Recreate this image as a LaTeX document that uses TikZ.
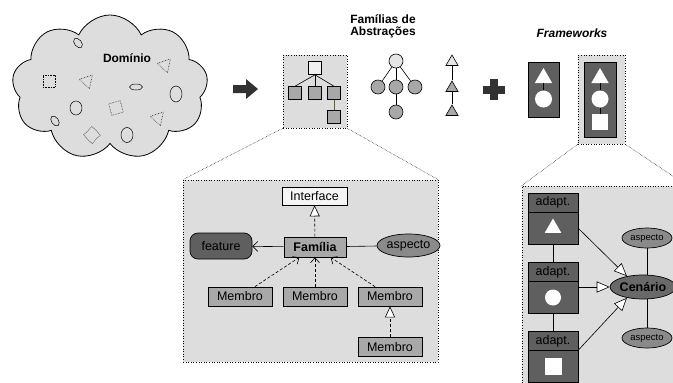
\documentclass[tikz,border=0pt]{standalone}
\usepackage{fontspec}
\setmainfont{Liberation Sans}
\usetikzlibrary{arrows.meta,positioning,shapes.geometric,shapes.symbols}
\definecolor{bgGray}{RGB}{221,221,221}
\definecolor{midGray}{RGB}{168,168,168}
\definecolor{aspGray}{RGB}{138,138,138}
\definecolor{darkGray}{RGB}{95,95,95}
\definecolor{ceGray}{RGB}{105,105,105}
\definecolor{arrGray}{RGB}{50,50,50}

\begin{document}
\begin{tikzpicture}[x=1pt,y=-1pt,
    txt/.style={font=\fontsize{12.5}{14}\selectfont},
    ttl/.style={font=\bfseries\fontsize{12}{12}\selectfont,align=center},
    zone/.style={rectangle,draw,dotted,line width=0.6pt,fill=bgGray,inner sep=0},
    cls/.style={rectangle,draw,line width=0.7pt,fill=midGray,minimum width=64,minimum height=19,inner sep=0,txt},
    asp/.style={ellipse,draw,line width=0.7pt,fill=aspGray,inner sep=0,txt},
    dk/.style={rectangle,draw,line width=0.8pt,fill=darkGray,inner sep=0,outer sep=0},
    wsym/.style={fill=white,draw=none},
    sq/.style={rectangle,draw,line width=0.6pt,minimum size=13,inner sep=0},
    circ/.style={circle,draw,line width=0.6pt,minimum size=14,inner sep=0},
    tri/.style={regular polygon,regular polygon sides=3,draw,line width=0.6pt,minimum size=14,inner sep=0},
    dots/.style={densely dotted,line width=0.5pt},
    sol/.style={line width=0.6pt},
    real/.style={sol,dash pattern=on 3pt off 2pt,-{Triangle[length=11pt,width=10pt,fill=white]}},
    dep/.style={sol,dash pattern=on 3pt off 2pt,-{Straight Barb[length=5pt,width=9pt]}},
    adp/.style={sol,-{Triangle[length=13pt,width=11pt,fill=white]}}
  ]
  \useasboundingbox (0,0) rectangle (673,383);
  \clip (0,0) rectangle (673,383);

  \node[cloud,cloud puffs=9,cloud puff arc=130,cloud ignores aspect,draw,line width=0.8pt,
    fill=bgGray,minimum width=196,minimum height=145] (dom) at (110,87.5) {};
  \node[ttl] (domlbl) at (127,58) {Domínio};
  \foreach \x/\y/\r [count=\i] in {49/81/0,116/108/15,92/135/45}
    \node[sq,dots,rotate=\r,minimum size=12] (dq\i) at (\x,\y) {};
  \foreach \x/\y [count=\i] in {165/65,87/81,158/118}
    \node[tri,dots,rotate=-42,minimum size=16] (dt\i) at (\x,\y) {};
  \foreach \x/\y/\w/\h/\r [count=\i] in {78/43/11/7/-50,136/87/13/6/0,55/121/11/7/-55,76/108/12/14/0,176/94/12/16/0,127/135/12/15/0}
    \node[ellipse,draw,line width=0.5pt,minimum width=\w,minimum height=\h,inner sep=0,rotate=\r] (de\i) at (\x,\y) {};

  \fill[arrGray] (233,85) -- (246,85) -- (246,79) -- (258,89) -- (246,99) -- (246,93) -- (233,93) -- cycle;
  \fill[arrGray] (490,79) rectangle (498,100);
  \fill[arrGray] (483,86) rectangle (505,94);

  \node[ttl] (famlbl) at (383,26) {Famílias de\\Abstrações};
  \node[zone,minimum width=64,minimum height=73] (fz) at (315,91.5) {};
  \node[sq,fill=gray!12] (fr) at (315,68) {};
  \foreach \x/\n in {295/f1,315/f2,334/f3} {
    \node[sq,fill=midGray] (\n) at (\x,93) {};
    \draw[sol] (fr.south) -- (\n.north);
  }
  \node[sq,fill=midGray] (f4) at (334,117) {};
  \draw[sol,draw=olive!60!black] (f3) -- (f4);

  \node[circ,fill=gray!20] (cr) at (396,61) {};
  \foreach \x/\n in {378/c1,396/c2,415/c3} {
    \node[circ,fill=midGray] (\n) at (\x,87) {};
    \draw[sol] (cr) -- (\n);
  }
  \node[circ,fill=midGray] (c4) at (396,112) {};
  \draw[sol] (c2) -- (c4);

  \node[tri,fill=gray!20] (t1) at (452,62) {};
  \node[tri,fill=midGray] (t2) at (452,88) {};
  \node[tri,fill=midGray] (t3) at (452,112) {};
  \draw[sol] (t1) -- (t2);
  \draw[sol] (t2) -- (t3);

  \node[ttl,font=\bfseries\itshape\fontsize{12}{12}\selectfont] (fwlbl) at (572,33) {Frameworks};
  \node[dk,minimum width=31,minimum height=55] (fw1) at (543.5,89.5) {};
  \node[tri,wsym,minimum size=20] (fw1t) at (543.5,78) {};
  \node[circ,wsym,minimum size=17] (fw1c) at (543.5,99) {};
  \draw[sol] (fw1t) -- (fw1c);

  \node[zone,minimum width=47,minimum height=89] (fwz) at (601.5,99.5) {};
  \node[dk,minimum width=32,minimum height=75] (fw2) at (600,99.5) {};
  \node[tri,wsym,minimum size=20] (fw2t) at (600,78) {};
  \node[circ,wsym,minimum size=17] (fw2c) at (600,99) {};
  \node[sq,wsym,minimum size=16] (fw2s) at (600,122) {};
  \draw[sol] (fw2t) -- (fw2c);
  \draw[sol] (fw2c) -- (fw2s);

  \node[zone,minimum width=255,minimum height=182] (lz) at (310.5,271) {};
  \draw[dots] (fz.south west) -- (lz.north west);
  \draw[dots] (fz.south east) -- (lz.north east);
  \node[cls,fill=gray!8,minimum width=65,minimum height=18] (intf) at (314.5,196) {Interface};
  \node[cls,minimum width=62,minimum height=20,font=\bfseries\fontsize{12.5}{14}\selectfont] (fam) at (315,247) {Família};
  \node[rectangle,rounded corners=8,draw,fill=darkGray,line width=0.7pt,minimum width=62,minimum height=26,txt] (feat) at (221,246) {feature};
  \node[asp,minimum width=63,minimum height=23] (asp) at (408.5,245.5) {aspecto};
  \node[cls] (m1) at (240,296.5) {Membro};
  \node[cls] (m2) at (315,296.5) {Membro};
  \node[cls] (m3) at (390,296.5) {Membro};
  \node[cls] (m4) at (390,347) {Membro};
  \draw[real] (fam) -- (intf);
  \draw[sol,-{Straight Barb[length=5pt,width=10pt]}] (fam) -- (feat);
  \draw[sol] (fam) -- (asp);
  \draw[dep] (m1) -- (fam);
  \draw[dep] (m2) -- (fam);
  \draw[dep] (m3) -- (fam);
  \draw[real] (m4) -- (m3);

  \node[zone,minimum width=165,minimum height=220] (rz) at (604.5,296) {};
  \draw[dots] (fwz.south west) -- (rz.north west);
  \draw[dots] (fwz.south east) -- (rz.north east);
  \foreach \i/\y in {1/202.5,2/272,3/341} {
    \node[dk,minimum width=50,minimum height=19,txt] (h\i) at (553,\y) {adapt.};
    \node[dk,minimum width=50,minimum height=32,below=0pt of h\i] (b\i) {};
  }
  \node[tri,wsym,minimum size=19] (s1) at (b1) {};
  \node[circ,wsym,minimum size=16] (s2) at (b2) {};
  \node[sq,wsym,minimum size=17] (s3) at (b3) {};
  \draw[sol] (b1.south) -- (h2.north);
  \draw[sol] (b2.south) -- (h3.north);
  \node[asp,fill=ceGray,minimum width=60,minimum height=24,font=\bfseries\fontsize{12.5}{14}\selectfont] (ce) at (643,287) {Cenário};
  \node[asp,minimum width=50,minimum height=20,font=\fontsize{9.5}{11}\selectfont] (ra1) at (647,238) {aspecto};
  \node[asp,minimum width=50,minimum height=20,font=\fontsize{9.5}{11}\selectfont] (ra2) at (647,338) {aspecto};
  \draw[sol] (ra1) -- (ra1 |- ce.north);
  \draw[sol] (ra2) -- (ra2 |- ce.south);
  \draw[adp] (b1.east) -- (ce.146);
  \draw[adp] (b2.east |- ce) -- (ce.west);
  \draw[adp] (h3.south east) -- (ce.214);
\end{tikzpicture}
\end{document}
